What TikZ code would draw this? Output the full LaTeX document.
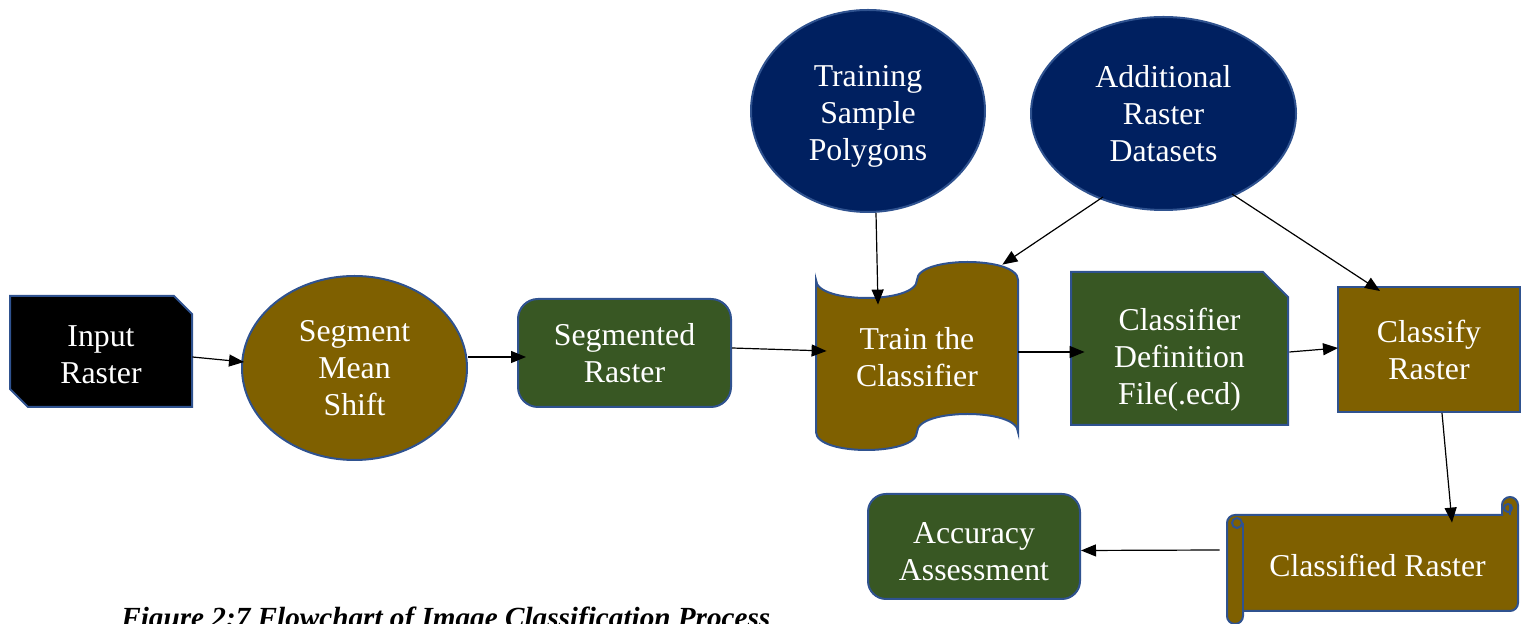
\documentclass[tikz,border=0pt]{standalone}
\usepackage{fontspec}
\setmainfont{Liberation Serif}
\usetikzlibrary{arrows.meta,shapes.geometric,calc,backgrounds}
\definecolor{navy}{HTML}{002060}
\definecolor{ochre}{HTML}{7F6000}
\definecolor{moss}{HTML}{385723}
\definecolor{edge}{HTML}{2F528F}
\begin{document}
\begin{tikzpicture}[x=0.5pt,y=-0.5pt,
  lbl/.style={text=white,font=\fontsize{15.9}{18.5}\selectfont,align=center,inner sep=0pt},
  outline/.style={draw=edge,line width=1pt},
  oval/.style={lbl,ellipse,outline},
  boxnode/.style={lbl,rectangle,outline},
  flow/.style={-{Triangle[length=7.5pt,width=6pt]},line width=0.6pt,draw=black}]
\useasboundingbox (0,0) rectangle (1523,624);

% inputs and data sets
\node[oval,fill=navy,minimum width=117pt,minimum height=101pt,
  label={[lbl,yshift=-2.5pt]center:{Training\\Sample\\Polygons}}] (tsp) at (868,111) {};
\node[oval,fill=navy,minimum width=132.5pt,minimum height=96.5pt] (ard) at (1163.5,113.5) {Additional\\Raster\\Datasets};

% processing chain
\node[lbl,minimum width=91pt,minimum height=55.5pt] (inr) at (101,355) {Input\\Raster};
\node[oval,fill=ochre,minimum width=112.5pt,minimum height=92pt] (sms) at (354.5,368) {Segment\\Mean\\Shift};
\node[boxnode,fill=moss,rounded corners=10pt,minimum width=106.5pt,minimum height=54pt] (sgr) at (624.5,353) {Segmented\\Raster};
\node[lbl,minimum width=101pt,minimum height=76pt] (trn) at (917,357) {Train the\\Classifier};
\node[lbl,minimum width=108.5pt,minimum height=76.5pt] (cdf) at (1179.5,360) {Classifier\\Definition\\File(.ecd)};
\node[boxnode,fill=ochre,minimum width=91pt,minimum height=62.5pt] (clr) at (1429,349.5) {Classify\\Raster};
\node[lbl,minimum width=145.5pt,minimum height=48pt] (cdr) at (1377.5,565) {Classified Raster};
\node[boxnode,fill=moss,rounded corners=9pt,minimum width=106pt,minimum height=52.5pt,
  label={[lbl,yshift=-2.5pt]center:{Accuracy\\Assessment}}] (acc) at (974,546.5) {};

% caption
\node[anchor=base west,inner sep=0pt,font=\bfseries\itshape\fontsize{14.6}{17}\selectfont] (cap) at (121,628) {Figure 2:7 Flowchart of Image Classification Process};

\begin{scope}[on background layer]
  % snipped-corner input block
  \path[outline,fill=black] (10,296) -- (174,296) -- (192,314) -- (192,407) -- (28,407) -- (10,389) -- cycle;
  % punched-tape block
  \path[outline,fill=ochre] (816,280) .. controls (816,304) and (917,304) .. (917,280)
    .. controls (917,256) and (1018,256) .. (1018,280) -- (1018,432)
    .. controls (1018,408) and (917,408) .. (917,432)
    .. controls (917,456) and (816,456) .. (816,432) -- cycle;
  % snipped-corner file block
  \path[outline,fill=moss] (1071,272) -- (1263,272) -- (1288,297) -- (1288,425) -- (1071,425) -- cycle;
  % horizontal scroll
  \path[outline,fill=ochre] (1227,523) .. controls (1227,518.6) and (1230.6,515) .. (1235,515)
    -- (1502,515) -- (1502,505) .. controls (1502,500.6) and (1505.6,497) .. (1510,497)
    .. controls (1514.4,497) and (1518,500.6) .. (1518,505) -- (1518,603)
    .. controls (1518,607.4) and (1514.4,611) .. (1510,611) -- (1243,611) -- (1243,616)
    .. controls (1243,620.4) and (1239.4,624) .. (1235,624)
    .. controls (1230.6,624) and (1227,620.4) .. (1227,616) -- cycle;
  \draw[outline] (1243,523) -- (1243,611);
  \draw[outline] (1237,523) circle[radius=5];
  \draw[outline] (1510,505) -- (1510,515);
  \draw[outline] (1508,508) circle[radius=4];
\end{scope}

% connectors
\draw[flow] ($(inr.east)+(0,2)$) -- ($(sms.west)+(3,-6)$);
\draw[flow] ($(sms.east)+(0,-11)$) -- ($(sgr.west)+(9,4)$);
\draw[flow] ($(sgr.east)+(0,-5)$) -- ($(trn.west)+(11,-6)$);
\draw[flow] ($(trn.east)+(0,-5)$) -- ($(cdf.west)+(14,-8)$);
\draw[flow] ($(cdf.east)+(1,-8)$) -- ($(clr.west)+(1,-1.5)$);
\draw[flow] ($(tsp.south)+(8,0)$) -- ($(trn.north)+(-39,24)$);
\draw[flow] ($(ard.south)+(-60.5,-14)$) -- ($(trn.north east)+(-16,-16)$);
\draw[flow] ($(ard.south)+(68.5,-17)$) -- ($(clr.north)+(-49,5)$);
\draw[flow] ($(clr.south)+(13,0)$) -- ($(cdr.north)+(74.5,6)$);
\draw[flow] ($(cdr.west)+(-12,-15)$) -- ($(acc.east)+(0,4)$);
\end{tikzpicture}
\end{document}
